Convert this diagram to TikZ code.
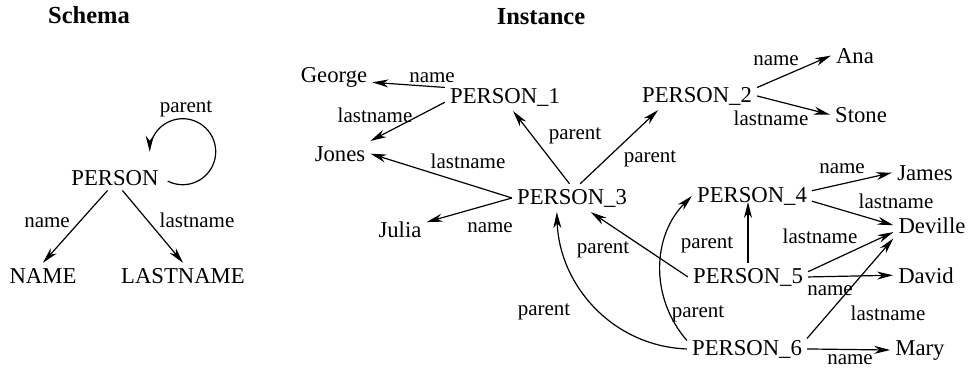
\documentclass[tikz,border=0pt]{standalone}
\usepackage{fontspec}
\setmainfont{Liberation Serif}
\usetikzlibrary{arrows.meta}

\begin{document}
\begin{tikzpicture}[x=1pt,y=-1pt,
  obj/.style={anchor=base,inner sep=5pt,font=\fontsize{22.7}{26}\selectfont},
  lbl/.style={anchor=base,inner sep=0pt,font=\fontsize{21}{24}\selectfont},
  ttl/.style={anchor=base,font=\fontsize{24.5}{28}\selectfont\bfseries},
  arr/.style={-{Stealth[length=16pt,width=8pt,inset=5pt]},line width=1.2pt}]

\useasboundingbox (0,0) rectangle (969,368);

\node[ttl] (schema) at (89,23) {Schema};
\node[ttl] (instance) at (541,24) {Instance};

% schema
\node[obj] (person) at (115,185) {PERSON};
\node[obj] (nameS) at (43,283) {NAME};
\node[obj] (lastnameS) at (183,283) {LASTNAME};

\draw[arr] (person.east) ++(4,3.5) arc[start angle=117,end angle=-180,radius=33];
\draw[arr] (person.-120) -- (nameS.north);
\draw[arr] (person.-60) -- (lastnameS.north);

% instance
\foreach \n/\x/\y/\t in {george/334/82/George, p1/505/103/PERSON\_1,
    jones/340/161/Jones, p3/572/204/PERSON\_3, julia/400/237/Julia,
    p2/697/102/PERSON\_2, ana/855/63/Ana, stone/861/122/Stone,
    p4/752/202/PERSON\_4, james/925/180/James, deville/932/233/Deville,
    p5/748/283/PERSON\_5, david/926/283/David,
    p6/747/355/PERSON\_6, mary/920/355/Mary}{%
  \node[obj] (\n) at (\x,\y) {\t};
}

\draw[arr] (p1.171) -- (george.-8);
\draw[arr] (p1.185) -- (jones.north east);
\draw[arr] (p3.west) -- (jones.east);
\draw[arr] (p3.west) -- (julia.15);
\draw[arr] (p3.100) -- (p1.-60);
\draw[arr] (p3.60) -- (p2.-160);
\draw[arr] (p2.8) -- (ana.west);
\draw[arr] (p2.east) -- (stone.west);
\draw[arr] (p4.5) -- (james.west);
\draw[arr] (p4.-5) -- (deville.west);
\draw[arr] (p5.north) -- (p5.north |- p4.base);
\draw[arr] (p5.west) -- (p3.-37);
\draw[arr] (p5.5) -- (deville.190);
\draw[arr] (p5.east) -- (david.west);
\draw[arr] (p6.10) -- (deville.south west);
\draw[arr] (p6.east) -- (mary.west);
\draw[arr] (p6.west) to[out=178,in=-88] (p3.-137);
\draw[arr] (p6.172) to[out=131,in=-135] (p4.west);

% edge labels
\foreach \x/\y/\t [count=\i] in {186/112/parent, 47/227/name, 197/227/lastname,
    432/82/name, 375/122/lastname, 468/168/lastname, 575/139/parent,
    490/232/name, 650/162/parent, 776/65/name, 771/125/lastname,
    842/173/name, 896/208/lastname, 707/248/parent, 820/243/lastname,
    830/295/name, 603/253/parent, 544/315/parent, 698/317/parent,
    888/320/lastname, 850/364/name}{%
  \node[lbl] (l\i) at (\x,\y) {\t};
}

\end{tikzpicture}
\end{document}
